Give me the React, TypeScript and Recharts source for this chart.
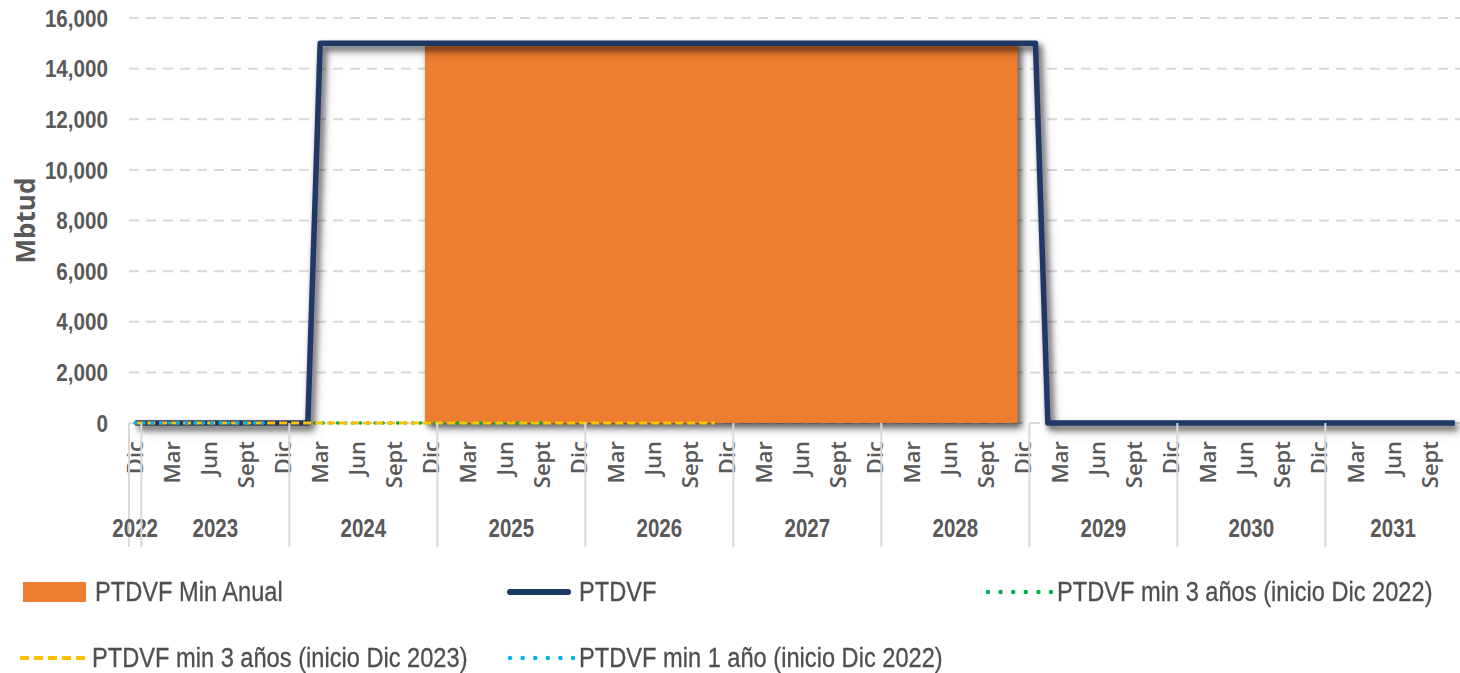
import { ComposedChart, Bar, Line, XAxis, YAxis, CartesianGrid, Legend, Label } from 'recharts'

const meses = ['Ene', 'Feb', 'Mar', 'Abr', 'May', 'Jun', 'Jul', 'Ago', 'Sept', 'Oct', 'Nov', 'Dic']

// primer y último mes del eje (mes 1-12)
const inicio = { anio: 2022, mes: 12 }
const fin = { anio: 2031, mes: 11 }

const categorias: { anio: number; mes: string }[] = []
for (let a = inicio.anio; a <= fin.anio; a++) {
  const m0 = a === inicio.anio ? inicio.mes : 1
  const m1 = a === fin.anio ? fin.mes : 12
  for (let m = m0; m <= m1; m++) categorias.push({ anio: a, mes: meses[m - 1] })
}

const yTicks = [0, 2000, 4000, 6000, 8000, 10000, 12000, 14000, 16000]

const _ = null
// una fila por año: Dic 2022 | 2023 ... 2030 | 2031 (Ene-Nov)
const minAnual = [
  _,
  _, _, _, _, _, _, _, _, _, _, _, _,
  _, _, _, _, _, _, _, _, _, _, _, 15000,
  15000, 15000, 15000, 15000, 15000, 15000, 15000, 15000, 15000, 15000, 15000, 15000,
  15000, 15000, 15000, 15000, 15000, 15000, 15000, 15000, 15000, 15000, 15000, 15000,
  15000, 15000, 15000, 15000, 15000, 15000, 15000, 15000, 15000, 15000, 15000, 15000,
  15000, 15000, 15000, 15000, 15000, 15000, 15000, 15000, 15000, 15000, 15000, _,
  _, _, _, _, _, _, _, _, _, _, _, _,
  _, _, _, _, _, _, _, _, _, _, _, _,
  _, _, _, _, _, _, _, _, _, _, _,
]

const ptdvf = [
  0,
  0, 0, 0, 0, 0, 0, 0, 0, 0, 0, 0, 0,
  0, 0, 15000, 15000, 15000, 15000, 15000, 15000, 15000, 15000, 15000, 15000,
  15000, 15000, 15000, 15000, 15000, 15000, 15000, 15000, 15000, 15000, 15000, 15000,
  15000, 15000, 15000, 15000, 15000, 15000, 15000, 15000, 15000, 15000, 15000, 15000,
  15000, 15000, 15000, 15000, 15000, 15000, 15000, 15000, 15000, 15000, 15000, 15000,
  15000, 15000, 15000, 15000, 15000, 15000, 15000, 15000, 15000, 15000, 15000, 15000,
  15000, 0, 0, 0, 0, 0, 0, 0, 0, 0, 0, 0,
  0, 0, 0, 0, 0, 0, 0, 0, 0, 0, 0, 0,
  0, 0, 0, 0, 0, 0, 0, 0, 0, 0, 0,
]

const min3Dic22 = [
  0,
  0, 0, 0, 0, 0, 0, 0, 0, 0, 0, 0, 0,
  0, 0, 0, 0, 0, 0, 0, 0, 0, 0, 0, 0,
  0, 0, 0, 0, 0, 0, 0, 0, 0, _, _, _,
  _, _, _, _, _, _, _, _, _, _, _, _,
  _, _, _, _, _, _, _, _, _, _, _, _,
  _, _, _, _, _, _, _, _, _, _, _, _,
  _, _, _, _, _, _, _, _, _, _, _, _,
  _, _, _, _, _, _, _, _, _, _, _, _,
  _, _, _, _, _, _, _, _, _, _, _,
]

const min3Dic23 = [
  0,
  0, 0, 0, 0, 0, 0, 0, 0, 0, 0, 0, 0,
  0, 0, 0, 0, 0, 0, 0, 0, 0, 0, 0, 0,
  0, 0, 0, 0, 0, 0, 0, 0, 0, 0, 0, 0,
  0, 0, 0, 0, 0, 0, 0, 0, 0, 0, 0, _,
  _, _, _, _, _, _, _, _, _, _, _, _,
  _, _, _, _, _, _, _, _, _, _, _, _,
  _, _, _, _, _, _, _, _, _, _, _, _,
  _, _, _, _, _, _, _, _, _, _, _, _,
  _, _, _, _, _, _, _, _, _, _, _,
]

const min1Dic22 = [
  0,
  0, 0, 0, 0, 0, 0, 0, 0, 0, 0, 0, _,
  _, _, _, _, _, _, _, _, _, _, _, _,
  _, _, _, _, _, _, _, _, _, _, _, _,
  _, _, _, _, _, _, _, _, _, _, _, _,
  _, _, _, _, _, _, _, _, _, _, _, _,
  _, _, _, _, _, _, _, _, _, _, _, _,
  _, _, _, _, _, _, _, _, _, _, _, _,
  _, _, _, _, _, _, _, _, _, _, _, _,
  _, _, _, _, _, _, _, _, _, _, _,
]

const data = categorias.map((c, i) => ({
  cat: `${c.mes} ${c.anio}`,
  minAnual: minAnual[i],
  ptdvf: ptdvf[i],
  min3Dic22: min3Dic22[i],
  min3Dic23: min3Dic23[i],
  min1Dic22: min1Dic22[i],
}))

const GRIS = '#595959'
const SANS = "'Liberation Sans', Arial, sans-serif"
const WIDE = "'Open Sans', 'Noto Sans', sans-serif"
// el original usa una letra estrecha (Calibri estirada): se comprime en horizontal
const ESTRECHO = 0.86

const colores = {
  minAnual: '#ED7D31',
  ptdvf: '#1F3864',
  min3Dic22: '#00B050',
  min3Dic23: '#FFC000',
  min1Dic22: '#00B0F0',
}

function MesTick(props: any) {
  const { x, y, index, payload } = props
  const half = payload?.offset ?? 6.17
  const c = categorias[index]
  if (!c) return <g />
  const inicioAnio = index === 0 || c.mes === 'Ene'
  let anio = null
  if (inicioAnio) {
    const n = categorias.filter((k) => k.anio === c.anio).length
    anio = (
      <>
        <line x1={x - half} x2={x - half} y1={y} y2={y + 124} stroke="#D9D9D9" strokeWidth={2} />
        <text
          transform={`translate(${x + (n - 1) * half},${y + 114}) scale(0.82,1)`}
          textAnchor="middle"
          fill={GRIS}
          fontFamily={SANS}
          fontWeight={700}
          fontSize={25}
        >
          {c.anio}
        </text>
      </>
    )
  }
  return (
    <g>
      {index % 3 === 0 && (
        <text
          transform={`translate(${x},${y + 18}) rotate(-90)`}
          textAnchor="end"
          dy="0.36em"
          fill={GRIS}
          fontFamily={WIDE}
          fontWeight={600}
          fontSize={22}
        >
          {c.mes}
        </text>
      )}
      {anio}
    </g>
  )
}

function ValorTick(props: any) {
  const { x, y, payload } = props
  return (
    <text
      transform={`translate(${x},${y}) scale(${ESTRECHO},1)`}
      textAnchor="end"
      dy="0.36em"
      fill={GRIS}
      fontFamily={SANS}
      fontWeight={700}
      fontSize={24}
    >
      {Number(payload.value).toLocaleString('en-US')}
    </text>
  )
}

function Muestra({ tipo, color }: { tipo: string; color: string }) {
  return (
    <svg width={70} height={26} style={{ display: 'block', flex: 'none' }}>
      {tipo === 'rect' && <rect x={1} y={3} width={63} height={20} fill={color} />}
      {tipo === 'solid' && (
        <line x1={4} x2={62} y1={13} y2={13} stroke={color} strokeWidth={6} strokeLinecap="round" />
      )}
      {tipo === 'dots' && (
        <line x1={4} x2={68} y1={13} y2={13} stroke={color} strokeWidth={4.5} strokeDasharray="0 12.6" strokeLinecap="round" />
      )}
      {tipo === 'dash' && (
        <line x1={1} x2={69} y1={13} y2={13} stroke={color} strokeWidth={4} strokeDasharray="9 5" />
      )}
    </svg>
  )
}

const leyenda = [
  { key: 'minAnual', nombre: 'PTDVF Min Anual', tipo: 'rect' },
  { key: 'ptdvf', nombre: 'PTDVF', tipo: 'solid' },
  { key: 'min3Dic22', nombre: 'PTDVF min 3 años (inicio Dic 2022)', tipo: 'dots' },
  { key: 'min3Dic23', nombre: 'PTDVF min 3 años (inicio Dic 2023)', tipo: 'dash' },
  { key: 'min1Dic22', nombre: 'PTDVF min 1 año (inicio Dic 2022)', tipo: 'dots' },
]
// posición de cada entrada en la leyenda
const posLeyenda: Record<string, { left: number; top: number }> = {
  minAnual: { left: 22, top: 19 },
  ptdvf: { left: 506, top: 19 },
  min3Dic22: { left: 984, top: 19 },
  min3Dic23: { left: 19, top: 85 },
  min1Dic22: { left: 506, top: 85 },
}

function Leyenda() {
  return (
    <div style={{ position: 'relative', width: 1460, height: 113 }}>
      {leyenda.map((it) => (
        <div
          key={it.key}
          style={{
            position: 'absolute',
            left: posLeyenda[it.key].left,
            top: posLeyenda[it.key].top,
            display: 'flex',
            alignItems: 'center',
            whiteSpace: 'nowrap',
          }}
        >
          <Muestra tipo={it.tipo} color={(colores as any)[it.key]} />
          <span
            style={{
              display: 'inline-block',
              fontFamily: SANS,
              fontSize: 27,
              color: '#4f4f4f',
              marginLeft: 3,
              lineHeight: '26px',
              transform: 'scaleX(0.875)',
              transformOrigin: 'left center',
              WebkitTextStroke: '0.3px #4f4f4f',
            }}
          >
            {it.nombre}
          </span>
        </div>
      ))}
    </div>
  )
}

const css = `
.sombra, .recharts-bar-rectangles, path.recharts-line-curve[stroke="#1F3864"] {
  filter: drop-shadow(3px 4px 3px rgba(0,0,0,0.4));
}`

export default function App() {
  return (
    <div style={{ position: 'absolute', left: 0, top: 0, width: 1460, height: 673, overflow: 'hidden', background: '#fff' }}>
      <style>{css}</style>
      <ComposedChart
        width={1461}
        height={673}
        data={data}
        margin={{ top: 18, right: 0, bottom: 120, left: 0 }}
        barCategoryGap={0}
        barGap={0}
      >
        <CartesianGrid vertical={false} stroke="#D9D9D9" strokeDasharray="10 7" strokeWidth={2} />
        <XAxis
          dataKey="cat"
          interval={0}
          height={130}
          tickSize={0}
          tickMargin={0}
          axisLine={false}
          tick={(p: any) => <MesTick {...p} />}
        />
        <YAxis
          width={129}
          domain={[0, 16000]}
          ticks={yTicks}
          axisLine={false}
          tickLine={false}
          tickSize={0}
          tickMargin={21}
          tick={(p: any) => <ValorTick {...p} />}
        >
          <Label
            position="insideLeft"
            content={(p: any) => {
              const vb = p.viewBox || { x: 0, y: 18, height: 405 }
              const cx = vb.x + 26
              const cy = vb.y + vb.height / 2
              return (
                <text
                  transform={`translate(${cx},${cy}) rotate(-90)`}
                  textAnchor="middle"
                  dy="0.36em"
                  fill={GRIS}
                  fontFamily={WIDE}
                  fontWeight={700}
                  fontSize={26}
                >
                  Mbtud
                </text>
              )
            }}
          />
        </YAxis>
        <Bar
          dataKey="minAnual"
          name="PTDVF Min Anual"
          fill={colores.minAnual}
          className="sombra"
          isAnimationActive={false}
          shape={(p: any) => (
            <rect x={p.x} y={p.y} width={p.width + 1} height={p.height} fill={colores.minAnual} />
          )}
        />
        <Line
          dataKey="min3Dic22"
          name="PTDVF min 3 años (inicio Dic 2022)"
          type="linear"
          stroke={colores.min3Dic22}
          strokeWidth={3.5}
          strokeDasharray="0.5 7"
          strokeLinecap="round"
          dot={false}
          activeDot={false}
          isAnimationActive={false}
        />
        <Line
          dataKey="ptdvf"
          name="PTDVF"
          type="linear"
          stroke={colores.ptdvf}
          strokeWidth={5.5}
          strokeLinejoin="round"
          className="sombra"
          dot={false}
          activeDot={false}
          isAnimationActive={false}
        />
        <Line
          dataKey="min3Dic23"
          name="PTDVF min 3 años (inicio Dic 2023)"
          type="linear"
          stroke={colores.min3Dic23}
          strokeWidth={3}
          strokeDasharray="8 4"
          dot={false}
          activeDot={false}
          isAnimationActive={false}
        />
        <Line
          dataKey="min1Dic22"
          name="PTDVF min 1 año (inicio Dic 2022)"
          type="linear"
          stroke={colores.min1Dic22}
          strokeWidth={3.5}
          strokeDasharray="0.5 8"
          strokeLinecap="round"
          dot={false}
          activeDot={false}
          isAnimationActive={false}
        />
        <Legend
          layout="horizontal"
          verticalAlign="middle"
          align="center"
          content={() => <Leyenda />}
          wrapperStyle={{ top: 560, left: 0, width: 1460, height: 113 }}
        />
      </ComposedChart>
    </div>
  )
}
